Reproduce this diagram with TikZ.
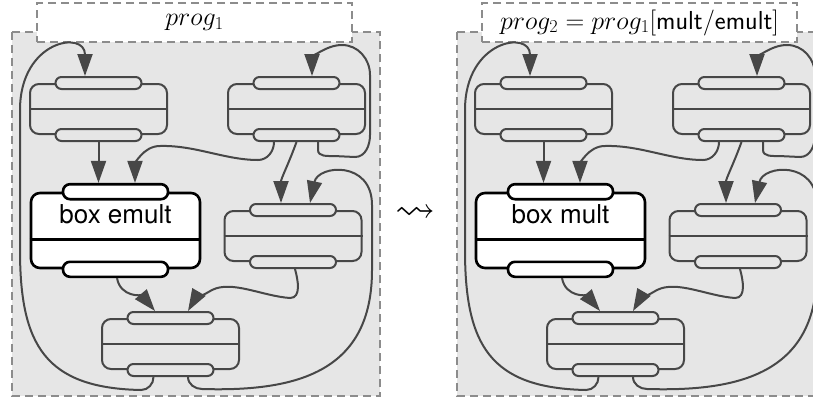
\RequirePackage{fix-cm}
\documentclass[tikz,border=0pt]{standalone}
\usepackage{amssymb}
\usepackage{fontspec}
\newfontfamily\boxfont{TeX Gyre Heros}
\usetikzlibrary{arrows.meta}

\definecolor{wirec}{HTML}{474747}
\definecolor{framec}{HTML}{8C8C8C}
\definecolor{panelc}{HTML}{E6E6E6}

\tikzset{
  panel/.style={fill=panelc, draw=framec, line width=2.4pt, dash pattern=on 8pt off 5pt},
  ttl/.style={panel, fill=white, minimum width=315pt, minimum height=39pt, inner sep=0pt,
    font=\fontsize{26}{30}\selectfont},
  blk/.style={draw=wirec, fill=panelc, line width=2pt, rounded corners=9pt,
    minimum width=137pt, minimum height=50pt, inner sep=0pt},
  blkem/.style={blk, draw=black, fill=white, line width=2.6pt,
    minimum width=169pt, minimum height=75pt},
  port/.style={draw=wirec, fill=panelc, line width=2pt, rounded corners=6pt,
    minimum width=86pt, minimum height=12pt, inner sep=0pt},
  portem/.style={port, draw=black, fill=white, line width=2.6pt, rounded corners=7pt,
    minimum width=105pt, minimum height=15pt},
  sep/.style={draw=wirec, line width=2pt},
  wire/.style={draw=wirec, line width=2pt, -{Triangle[length=22pt,width=15pt]}},
}

% one program: #1 name prefix, #2 title, #3 label of the box
\newcommand{\progpanel}[3]{%
  \draw[panel] (12,-32) rectangle (380,-396);
  \node[ttl] (#1ttl) at (194.5,-22.5) {#2};
  % blocks
  \node[blk] (#1A) at (98.5,-109) {};
  \node[blk] (#1B) at (296.5,-109) {};
  \node[blkem] (#1E) at (115.5,-230.5) {};
  \node[blk] (#1C) at (293,-236) {};
  \node[blk] (#1D) at (170.5,-344) {};
  \draw[sep] (#1A.west) -- (#1A.east);
  \draw[sep] (#1B.west) -- (#1B.east);
  \draw[sep] (#1C.west) -- (#1C.east);
  \draw[sep] (#1D.west) -- (#1D.east);
  \draw[sep, draw=black, line width=2.6pt] ([yshift=30pt]#1E.south west) -- ([yshift=30pt]#1E.south east);
  \node[font=\fontsize{26}{30}\selectfont\boxfont] (#1lbl) at ([yshift=-23pt]#1E.north) {#3};
  % ports
  \node[port] (#1Ain) at (#1A.north) {};
  \node[port] (#1Aout) at (#1A.south) {};
  \node[port] (#1Bin) at (#1B.north) {};
  \node[port] (#1Bout) at (#1B.south) {};
  \node[port] (#1Cin) at (#1C.north) {};
  \node[port] (#1Cout) at (#1C.south) {};
  \node[port] (#1Din) at (#1D.north) {};
  \node[port] (#1Dout) at (#1D.south) {};
  \node[portem] (#1Ein) at (#1E.north) {};
  \node[portem] (#1Eout) at (#1E.south) {};
  % wires
  \draw[wire] ([xshift=-17pt]#1Dout.south) to[out=-90,in=0] (141,-390)
    .. controls (45,-388) and (20,-345) .. (20,-250) -- (20,-110)
    .. controls (20,-40) and (85,-30) .. ([xshift=-13.5pt]#1Ain.north);
  \draw[wire] ([xshift=17.5pt]#1Dout.south) to[out=-90,in=180] (202,-389)
    .. controls (300,-392) and (372,-370) .. (372,-270) -- (372,-205)
    .. controls (372,-160) and (318,-165) .. ([xshift=17pt]#1Cin.north);
  \draw[wire] (#1Aout.south) -- (#1Aout.south |- #1Ein.north);
  \draw[wire] ([xshift=-22.5pt]#1Bout.south) to[out=-90,in=0] (258,-160)
    .. controls (225,-160) and (195,-145) .. (160,-146)
    to[out=180,in=90] ([xshift=19.5pt]#1Ein.north);
  \draw[wire] (#1Bout.south) to[out=-110,in=90] ([xshift=-12pt]#1Cin.north);
  \draw[wire] ([xshift=21.5pt]#1Bout.south) -- ++(0,-8) to[out=-90,in=180] (334,-156)
    -- (355,-157) to[out=0,in=-90] (370,-135) -- (370,-75)
    to[out=90,in=0] (342,-45) to[out=180,in=90] ([xshift=15.5pt]#1Bin.north);
  \draw[wire] ([xshift=1.5pt]#1Eout.south) to[out=-80,in=130] ([xshift=-15.5pt]#1Din.north);
  \draw[wire] ([xshift=2pt]#1Cout.south) to[out=-75,in=0] (290,-298)
    .. controls (262,-296) and (232,-280) .. (212,-290)
    to[out=-150,in=60] ([xshift=17.5pt]#1Din.north);
}

\begin{document}
\begin{tikzpicture}[x=1pt,y=1pt]
  \useasboundingbox (0,0) rectangle (813,-405);
  \progpanel{l}{$prog_1$}{box emult}
  \node[font=\fontsize{40}{44}\selectfont] (step) at (415,-214) {$\leadsto$};
  \begin{scope}[xshift=445pt]
    \progpanel{r}{$prog_2 = prog_1[\textsf{mult/emult}]$}{box mult}
  \end{scope}
\end{tikzpicture}
\end{document}
